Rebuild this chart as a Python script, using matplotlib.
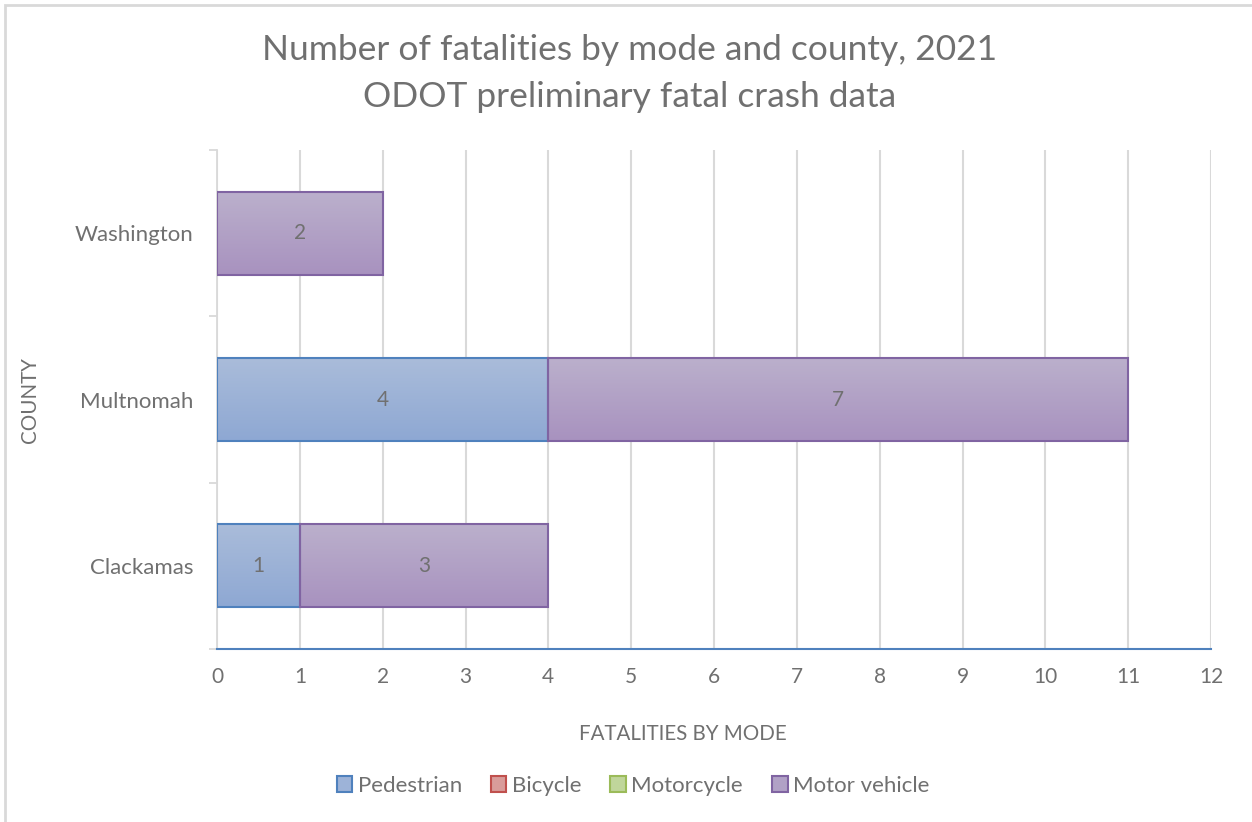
import matplotlib
matplotlib.use("Agg")
import matplotlib.pyplot as plt
import numpy as np
from matplotlib.patches import Rectangle, Patch
from matplotlib.colors import LinearSegmentedColormap

counties = ["Clackamas", "Multnomah", "Washington"]
modes = ["Pedestrian", "Bicycle", "Motorcycle", "Motor vehicle"]
pedestrian = [1, 4, 0]
bicycle = [0, 0, 0]
motorcycle = [0, 0, 0]
motor_vehicle = [3, 7, 2]
x_ticks = list(range(0, 13))

series = [pedestrian, bicycle, motorcycle, motor_vehicle]
fill_top = ["#AABCDA", "#DCA9A8", "#C9DBA9", "#BBB0CC"]
fill_bot = ["#8EA8D3", "#D48F8D", "#B5CE8B", "#A892BF"]
edges = ["#4F81BD", "#C0504D", "#9BBB59", "#8064A2"]
legend_fill = ["#9DB3D8", "#D99C9A", "#C0D69B", "#B1A1C6"]

plt.rcParams['font.family'] = ['Lato', 'DejaVu Sans']
gray = "#707070"

fig = plt.figure(figsize=(12.52, 8.22), dpi=100)
ax = fig.add_axes([217/1252, 1-649/822, (1211-217)/1252, (649-150)/822])

y = np.arange(len(counties))
left = np.zeros(len(counties))
for vals, ft, fb, ec in zip(series, fill_top, fill_bot, edges):
    vals = np.array(vals, dtype=float)
    bars = ax.barh(y, vals, left=left, height=0.5, color=fb, edgecolor=ec,
                   linewidth=1.5, zorder=3)
    cmap = LinearSegmentedColormap.from_list("g", [ft, fb])
    for b, v in zip(bars, vals):
        if v <= 0:
            b.set_visible(False)
            continue
        x0, y0 = b.get_x(), b.get_y()
        w, h = b.get_width(), b.get_height()
        grad = np.linspace(0, 1, 100).reshape(-1, 1)
        im = ax.imshow(grad, cmap=cmap, aspect='auto', origin='upper',
                       extent=[x0, x0 + w, y0, y0 + h], zorder=2.5,
                       interpolation='bilinear')
        im.set_clip_path(b)
        b.set_facecolor('none')
        ax.text(x0 + w/2, y0 + h/2, f"{int(v)}", ha='center', va='center',
                color=gray, fontsize=15, zorder=4)
    left += vals

ax.set_xlim(0, 12)
ax.set_ylim(-0.5, 2.5)
ax.set_xticks(x_ticks)
ax.set_xticklabels([str(t) for t in x_ticks])
ax.set_yticks(y)
ax.set_yticklabels(counties)
ax.set_yticks([-0.5, 0.5, 1.5, 2.5], minor=True)
ax.tick_params(axis='y', which='major', length=0, pad=17, labelsize=16, labelcolor=gray)
ax.tick_params(axis='y', which='minor', length=6, color="#D9D9D9", width=1.3)
ax.tick_params(axis='x', length=0, pad=13, labelsize=15, labelcolor=gray)
ax.grid(axis='x', color="#D9D9D9", linewidth=1.5, zorder=0)
ax.set_axisbelow(True)
for s in ["top", "right"]:
    ax.spines[s].set_visible(False)
ax.spines["left"].set_color("#D9D9D9")
ax.spines["left"].set_linewidth(1.3)
ax.spines["bottom"].set_color("#4F81BD")
ax.spines["bottom"].set_linewidth(1.5)
ax.spines["bottom"].set_zorder(5)

fig.text(630/1252, 1-50/822, "Number of fatalities by mode and county, 2021",
         ha='center', va='center', fontsize=25.5, color=gray)
fig.text(630/1252, 1-97/822, "ODOT preliminary fatal crash data",
         ha='center', va='center', fontsize=25.5, color=gray)
fig.text(683/1252, 1-734/822, "FATALITIES BY MODE", ha='center', va='center',
         fontsize=14.8, color=gray)
fig.text(30/1252, 1-400/822, "COUNTY", ha='center', va='center',
         fontsize=14.8, color=gray, rotation=90)

handles = [Patch(facecolor=lf, edgecolor=ec, linewidth=1.5)
           for lf, ec in zip(legend_fill, edges)]
leg = fig.legend(handles, modes, loc='center', bbox_to_anchor=(633/1252, 1-786/822),
                 ncol=4, frameon=False, fontsize=16, handlelength=0.7,
                 handleheight=0.7, handletextpad=0.25, columnspacing=1.3)
for t in leg.get_texts():
    t.set_color(gray)

fig.patches.append(Rectangle((5/1252, -0.1), 1.2, 1-5/822+0.1, transform=fig.transFigure,
                             fill=False, edgecolor="#D9D9D9", linewidth=2))

fig.savefig("out.png", dpi=100)
